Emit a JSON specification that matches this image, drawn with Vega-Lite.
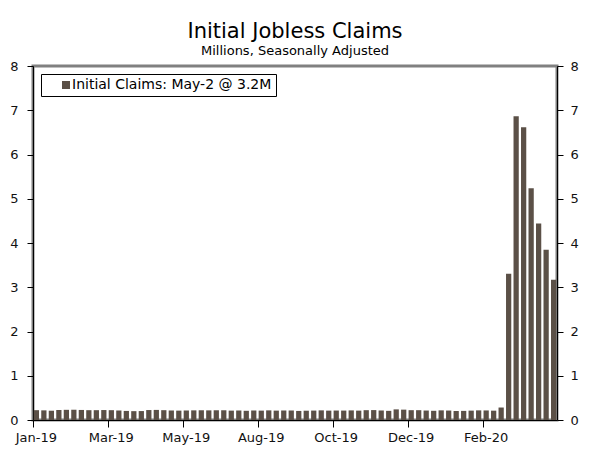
{
  "$schema": "https://vega.github.io/schema/vega-lite/v6.json",
  "autosize": "none",
  "width": 524,
  "height": 354,
  "padding": {"left": 33, "top": 66, "right": 43, "bottom": 32},
  "background": "white",
  "title": {
    "text": "Initial Jobless Claims",
    "subtitle": "Millions, Seasonally Adjusted",
    "font": "DejaVu Sans",
    "fontSize": 21,
    "fontWeight": "normal",
    "color": "#000000",
    "subtitleFont": "DejaVu Sans",
    "subtitleFontSize": 13,
    "subtitleColor": "#000000",
    "subtitlePadding": 3,
    "anchor": "middle",
    "offset": 2
  },
  "config": {
    "view": {"stroke": "#808080", "strokeWidth": 3},
    "axis": {
      "labelFont": "DejaVu Sans",
      "labelFontSize": 13,
      "labelColor": "#111111",
      "domainColor": "#000000",
      "tickColor": "#000000",
      "grid": false,
      "title": null
    },
    "legend": {
      "labelFont": "DejaVu Sans",
      "labelFontSize": 14,
      "labelColor": "#000000",
      "labelLimit": 0
    }
  },
  "data": {
    "values": [
      {"week": "2019-01-05", "claims": 0.222, "series": "Initial Claims: May-2 @ 3.2M"},
      {"week": "2019-01-12", "claims": 0.218, "series": "Initial Claims: May-2 @ 3.2M"},
      {"week": "2019-01-19", "claims": 0.210, "series": "Initial Claims: May-2 @ 3.2M"},
      {"week": "2019-01-26", "claims": 0.228, "series": "Initial Claims: May-2 @ 3.2M"},
      {"week": "2019-02-02", "claims": 0.230, "series": "Initial Claims: May-2 @ 3.2M"},
      {"week": "2019-02-09", "claims": 0.232, "series": "Initial Claims: May-2 @ 3.2M"},
      {"week": "2019-02-16", "claims": 0.227, "series": "Initial Claims: May-2 @ 3.2M"},
      {"week": "2019-02-23", "claims": 0.222, "series": "Initial Claims: May-2 @ 3.2M"},
      {"week": "2019-03-02", "claims": 0.222, "series": "Initial Claims: May-2 @ 3.2M"},
      {"week": "2019-03-09", "claims": 0.225, "series": "Initial Claims: May-2 @ 3.2M"},
      {"week": "2019-03-16", "claims": 0.222, "series": "Initial Claims: May-2 @ 3.2M"},
      {"week": "2019-03-23", "claims": 0.215, "series": "Initial Claims: May-2 @ 3.2M"},
      {"week": "2019-03-30", "claims": 0.205, "series": "Initial Claims: May-2 @ 3.2M"},
      {"week": "2019-04-06", "claims": 0.200, "series": "Initial Claims: May-2 @ 3.2M"},
      {"week": "2019-04-13", "claims": 0.202, "series": "Initial Claims: May-2 @ 3.2M"},
      {"week": "2019-04-20", "claims": 0.225, "series": "Initial Claims: May-2 @ 3.2M"},
      {"week": "2019-04-27", "claims": 0.228, "series": "Initial Claims: May-2 @ 3.2M"},
      {"week": "2019-05-04", "claims": 0.222, "series": "Initial Claims: May-2 @ 3.2M"},
      {"week": "2019-05-11", "claims": 0.215, "series": "Initial Claims: May-2 @ 3.2M"},
      {"week": "2019-05-18", "claims": 0.212, "series": "Initial Claims: May-2 @ 3.2M"},
      {"week": "2019-05-25", "claims": 0.215, "series": "Initial Claims: May-2 @ 3.2M"},
      {"week": "2019-06-01", "claims": 0.218, "series": "Initial Claims: May-2 @ 3.2M"},
      {"week": "2019-06-08", "claims": 0.220, "series": "Initial Claims: May-2 @ 3.2M"},
      {"week": "2019-06-15", "claims": 0.218, "series": "Initial Claims: May-2 @ 3.2M"},
      {"week": "2019-06-22", "claims": 0.220, "series": "Initial Claims: May-2 @ 3.2M"},
      {"week": "2019-06-29", "claims": 0.220, "series": "Initial Claims: May-2 @ 3.2M"},
      {"week": "2019-07-06", "claims": 0.212, "series": "Initial Claims: May-2 @ 3.2M"},
      {"week": "2019-07-13", "claims": 0.215, "series": "Initial Claims: May-2 @ 3.2M"},
      {"week": "2019-07-20", "claims": 0.208, "series": "Initial Claims: May-2 @ 3.2M"},
      {"week": "2019-07-27", "claims": 0.215, "series": "Initial Claims: May-2 @ 3.2M"},
      {"week": "2019-08-03", "claims": 0.212, "series": "Initial Claims: May-2 @ 3.2M"},
      {"week": "2019-08-10", "claims": 0.218, "series": "Initial Claims: May-2 @ 3.2M"},
      {"week": "2019-08-17", "claims": 0.212, "series": "Initial Claims: May-2 @ 3.2M"},
      {"week": "2019-08-24", "claims": 0.215, "series": "Initial Claims: May-2 @ 3.2M"},
      {"week": "2019-08-31", "claims": 0.215, "series": "Initial Claims: May-2 @ 3.2M"},
      {"week": "2019-09-07", "claims": 0.205, "series": "Initial Claims: May-2 @ 3.2M"},
      {"week": "2019-09-14", "claims": 0.210, "series": "Initial Claims: May-2 @ 3.2M"},
      {"week": "2019-09-21", "claims": 0.213, "series": "Initial Claims: May-2 @ 3.2M"},
      {"week": "2019-09-28", "claims": 0.218, "series": "Initial Claims: May-2 @ 3.2M"},
      {"week": "2019-10-05", "claims": 0.212, "series": "Initial Claims: May-2 @ 3.2M"},
      {"week": "2019-10-12", "claims": 0.214, "series": "Initial Claims: May-2 @ 3.2M"},
      {"week": "2019-10-19", "claims": 0.213, "series": "Initial Claims: May-2 @ 3.2M"},
      {"week": "2019-10-26", "claims": 0.217, "series": "Initial Claims: May-2 @ 3.2M"},
      {"week": "2019-11-02", "claims": 0.212, "series": "Initial Claims: May-2 @ 3.2M"},
      {"week": "2019-11-09", "claims": 0.222, "series": "Initial Claims: May-2 @ 3.2M"},
      {"week": "2019-11-16", "claims": 0.224, "series": "Initial Claims: May-2 @ 3.2M"},
      {"week": "2019-11-23", "claims": 0.215, "series": "Initial Claims: May-2 @ 3.2M"},
      {"week": "2019-11-30", "claims": 0.207, "series": "Initial Claims: May-2 @ 3.2M"},
      {"week": "2019-12-07", "claims": 0.240, "series": "Initial Claims: May-2 @ 3.2M"},
      {"week": "2019-12-14", "claims": 0.234, "series": "Initial Claims: May-2 @ 3.2M"},
      {"week": "2019-12-21", "claims": 0.222, "series": "Initial Claims: May-2 @ 3.2M"},
      {"week": "2019-12-28", "claims": 0.222, "series": "Initial Claims: May-2 @ 3.2M"},
      {"week": "2020-01-04", "claims": 0.214, "series": "Initial Claims: May-2 @ 3.2M"},
      {"week": "2020-01-11", "claims": 0.208, "series": "Initial Claims: May-2 @ 3.2M"},
      {"week": "2020-01-18", "claims": 0.218, "series": "Initial Claims: May-2 @ 3.2M"},
      {"week": "2020-01-25", "claims": 0.214, "series": "Initial Claims: May-2 @ 3.2M"},
      {"week": "2020-02-01", "claims": 0.203, "series": "Initial Claims: May-2 @ 3.2M"},
      {"week": "2020-02-08", "claims": 0.206, "series": "Initial Claims: May-2 @ 3.2M"},
      {"week": "2020-02-15", "claims": 0.212, "series": "Initial Claims: May-2 @ 3.2M"},
      {"week": "2020-02-22", "claims": 0.218, "series": "Initial Claims: May-2 @ 3.2M"},
      {"week": "2020-02-29", "claims": 0.216, "series": "Initial Claims: May-2 @ 3.2M"},
      {"week": "2020-03-07", "claims": 0.211, "series": "Initial Claims: May-2 @ 3.2M"},
      {"week": "2020-03-14", "claims": 0.282, "series": "Initial Claims: May-2 @ 3.2M"},
      {"week": "2020-03-21", "claims": 3.307, "series": "Initial Claims: May-2 @ 3.2M"},
      {"week": "2020-03-28", "claims": 6.867, "series": "Initial Claims: May-2 @ 3.2M"},
      {"week": "2020-04-04", "claims": 6.615, "series": "Initial Claims: May-2 @ 3.2M"},
      {"week": "2020-04-11", "claims": 5.237, "series": "Initial Claims: May-2 @ 3.2M"},
      {"week": "2020-04-18", "claims": 4.442, "series": "Initial Claims: May-2 @ 3.2M"},
      {"week": "2020-04-25", "claims": 3.846, "series": "Initial Claims: May-2 @ 3.2M"},
      {"week": "2020-05-02", "claims": 3.169, "series": "Initial Claims: May-2 @ 3.2M"}
    ]
  },
  "encoding": {
    "x": {
      "field": "week",
      "type": "ordinal",
      "sort": null,
      "scale": {"paddingInner": 0.3, "paddingOuter": 0.1},
      "axis": {
        "values": ["2019-01-05", "2019-03-16", "2019-05-25", "2019-08-03", "2019-10-12", "2019-12-21", "2020-02-29"],
        "labelExpr": "['Jan','Feb','Mar','Apr','May','Jun','Jul','Aug','Sep','Oct','Nov','Dec'][toNumber(slice(datum.value,5,7))-1] + '-' + slice(datum.value,2,4)",
        "bandPosition": 0,
        "labelAngle": 0,
        "tickSize": 7,
        "labelPadding": 4,
        "labelAlign": "center"
      }
    }
  },
  "layer": [
    {
      "mark": {"type": "bar"},
      "encoding": {
        "y": {
          "field": "claims",
          "type": "quantitative",
          "scale": {"domain": [0, 8], "nice": false},
          "axis": {"orient": "left", "values": [0, 1, 2, 3, 4, 5, 6, 7, 8], "tickSize": 6, "labelPadding": 9}
        },
        "color": {
          "field": "series",
          "type": "nominal",
          "scale": {"range": ["#5b5047"]},
          "legend": {
            "title": null,
            "orient": "top-left",
            "offset": 8,
            "padding": 4,
            "strokeColor": "#000000",
            "fillColor": "#ffffff",
            "symbolType": "square",
            "symbolSize": 64,
            "symbolStrokeWidth": 0,
            "symbolOffset": 14,
            "labelOffset": -1
          }
        }
      }
    },
    {
      "mark": {"type": "bar", "opacity": 0},
      "encoding": {
        "y": {
          "field": "claims",
          "type": "quantitative",
          "scale": {"domain": [0, 8], "nice": false},
          "axis": {"orient": "right", "values": [0, 1, 2, 3, 4, 5, 6, 7, 8], "tickSize": 6, "labelPadding": 7}
        }
      }
    }
  ],
  "resolve": {"scale": {"y": "independent"}}
}
